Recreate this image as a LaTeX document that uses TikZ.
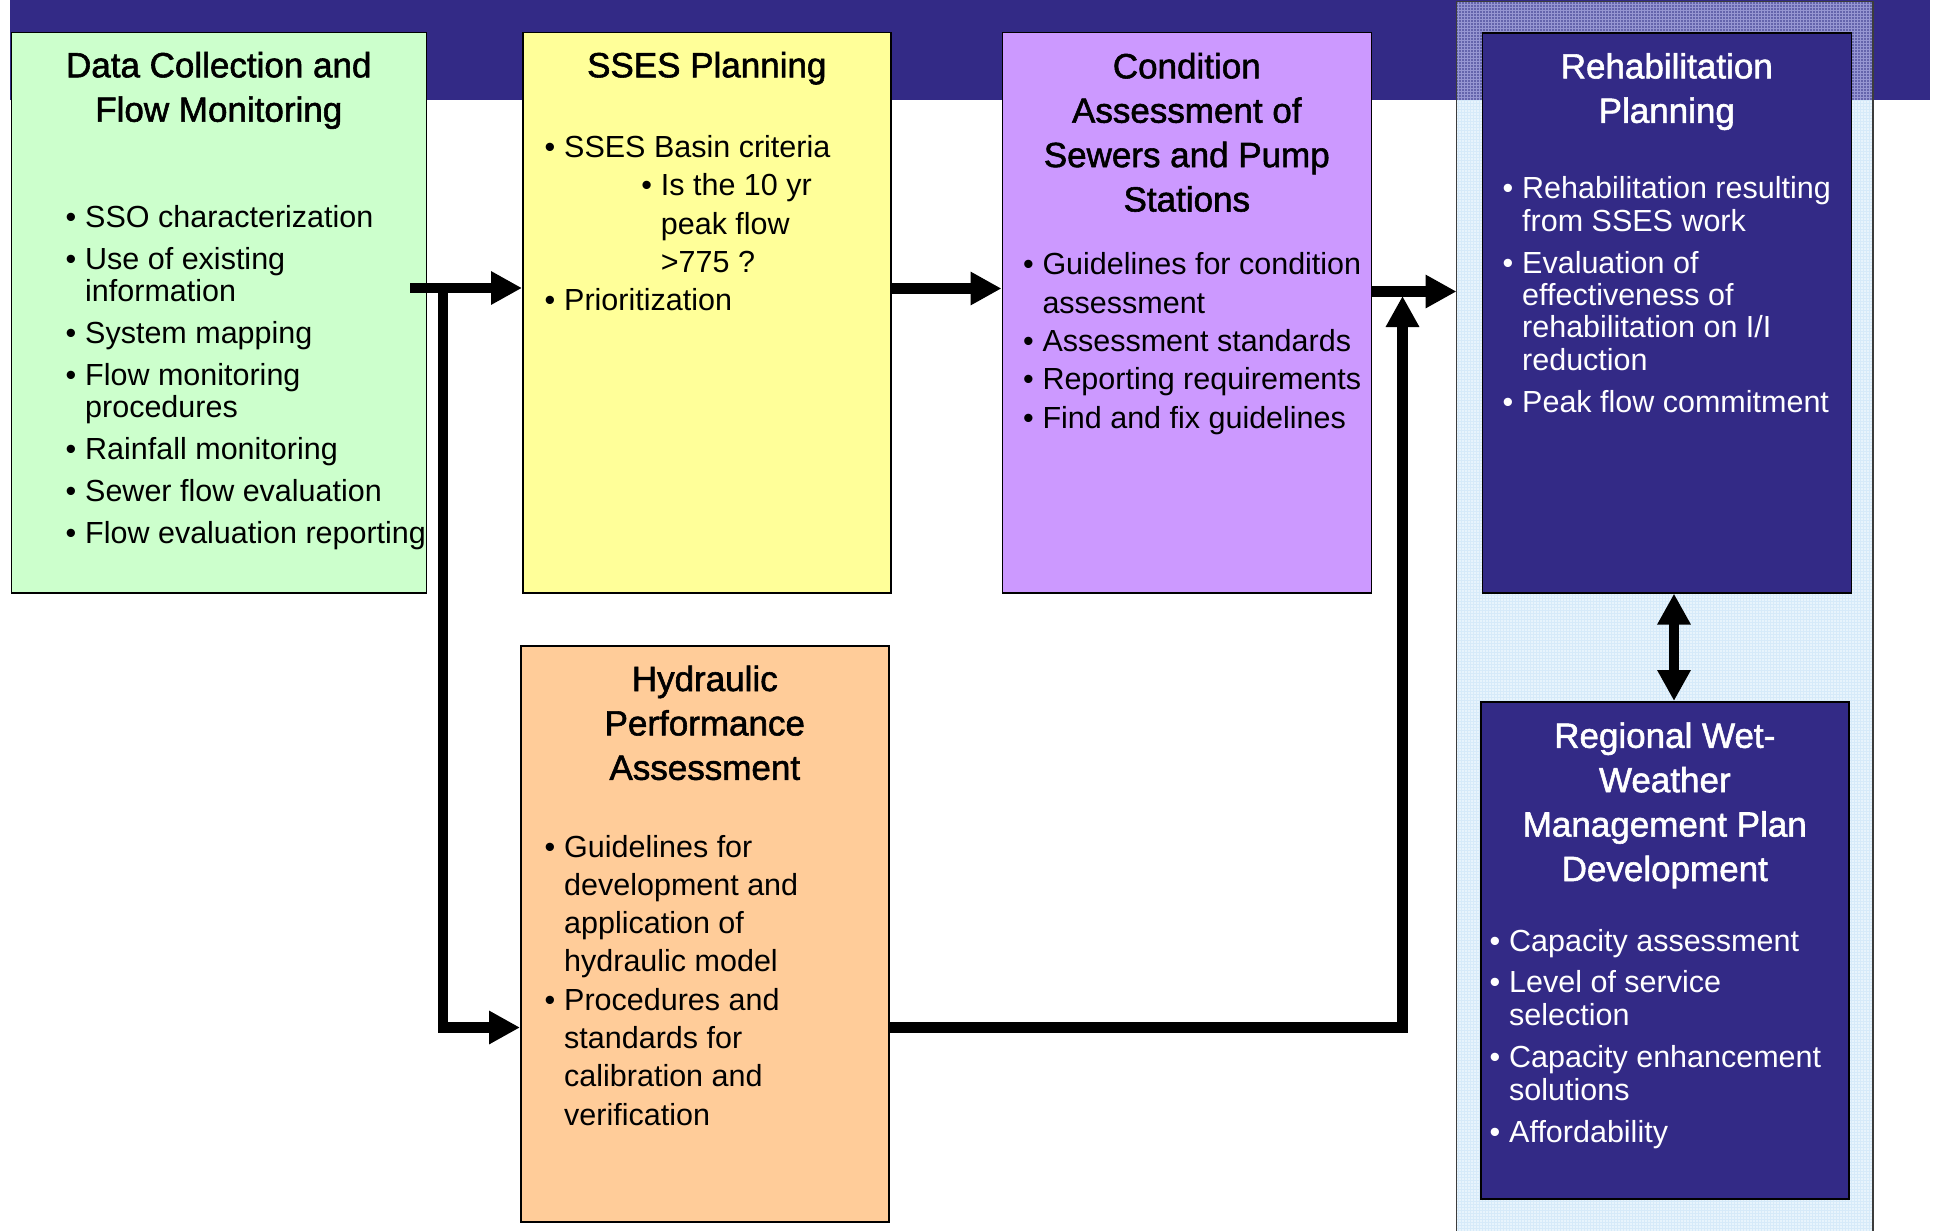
\documentclass[tikz,border=0pt]{standalone}
\usepackage{fontspec}
\setmainfont{Liberation Sans}
\newfontfamily\titlefam{Liberation Sans}[FakeBold=1.6]
\usetikzlibrary{arrows.meta,patterns}
\definecolor{navy}{RGB}{51,42,134}
\definecolor{boxgreen}{RGB}{204,255,204}
\definecolor{boxyellow}{RGB}{255,255,153}
\definecolor{boxpurple}{RGB}{204,153,255}
\definecolor{boxorange}{RGB}{255,204,153}
\definecolor{panelblue}{RGB}{232,244,252}
\definecolor{panelgrid}{RGB}{214,234,249}
\definecolor{panelnavy}{RGB}{100,100,172}
\definecolor{panelnavygrid}{RGB}{150,150,210}
\definecolor{paneledge}{RGB}{60,60,60}
\newlength{\bind}\setlength{\bind}{19.5pt}
\newcommand{\titleblock}[1]{\begin{minipage}[t]{360pt}\centering\titlefam\fontsize{35pt}{44.4pt}\selectfont #1\end{minipage}}
\newcommand{\blist}[3]{\begin{minipage}[t]{420pt}\fontsize{30.5pt}{#1}\selectfont\lineskiplimit=-100pt\relax\parskip=#2\relax\parindent=0pt\relax #3\par\end{minipage}}
\newcommand{\bi}[1]{\par\hangindent=\bind\hangafter=1\noindent\makebox[\bind][l]{\textbullet}#1}
\newcommand{\bii}[2]{\par\begingroup\leftskip=#1\hangindent=\bind\hangafter=1\noindent\makebox[\bind][l]{\textbullet}#2\par\endgroup}
\begin{document}
\begin{tikzpicture}[x=1pt,y=-1pt,
  box/.style={draw=black, line width=1.6pt, anchor=north west, inner sep=0pt},
  txt/.style={inner sep=0pt, anchor=base west},
  ttl/.style={inner sep=0pt, anchor=base},
  conn/.style={line width=10.5pt, line join=miter, -{Triangle[length=31pt,width=31.5pt]}},
  dbl/.style={line width=10.5pt, {Triangle[length=31pt,width=31.5pt]}-{Triangle[length=31pt,width=31.5pt]}}]
\useasboundingbox (0,0) rectangle (1939,1231);
\clip (0,0) rectangle (1939,1231);
% banner
\node[fill=navy, anchor=north west, minimum width=1920pt, minimum height=99.3pt, inner sep=0pt] (banner) at (10,0) {};
% right panel
\node[fill=panelblue, anchor=north west, minimum width=416pt, minimum height=1260pt, inner sep=0pt] (panel) at (1456.5,1.7) {};
\fill[pattern=grid, pattern color=panelgrid] (panel.north west) rectangle (panel.south east);
\fill[panelnavy] (panel.north west) rectangle (panel.east |- banner.south);
\fill[pattern=grid, pattern color=panelnavygrid] (panel.north west) rectangle (panel.east |- banner.south);
\draw[paneledge, line width=1.4pt] (panel.south west) -- (panel.north west) -- (panel.north east) -- (panel.south east);
% boxes
\node[box, fill=boxgreen, minimum width=415pt, minimum height=560.5pt] (green) at (10.5,31.6) {};
\node[box, fill=boxyellow, minimum width=368pt, minimum height=560.5pt] (yellow) at (522,31.6) {};
\node[box, fill=boxpurple, minimum width=369pt, minimum height=560.5pt] (purple) at (1001.5,31.6) {};
\node[box, fill=navy, minimum width=369pt, minimum height=560pt] (rehab) at (1481.5,32) {};
\node[box, fill=boxorange, minimum width=368pt, minimum height=576pt] (hydr) at (520,645) {};
\node[box, fill=navy, minimum width=368pt, minimum height=497pt] (region) at (1480,701) {};
% titles
\node[ttl] (gtitle) at (green.north |- 0,77.3) {\titleblock{Data Collection and\\Flow Monitoring}};
\node[ttl] (ytitle) at (yellow.north |- 0,77.3) {\titleblock{SSES Planning}};
\node[ttl] (ptitle) at (purple.north |- 0,78.3) {\titleblock{Condition\\Assessment of\\Sewers and Pump\\Stations}};
\node[ttl, text=white] (rtitle) at (rehab.north |- 0,78.4) {\titleblock{Rehabilitation\\Planning}};
\node[ttl] (htitle) at (hydr.north |- 0,691) {\titleblock{Hydraulic\\Performance\\Assessment}};
\node[ttl, text=white] (wtitle) at (region.north |- 0,747.8) {\titleblock{Regional Wet-\\Weather\\Management Plan\\Development}};
% bullet texts
\node[txt] (gtext) at (65.5,227.3) {\blist{32.4pt}{9.5pt}{%
  \bi{SSO characterization}%
  \bi{Use of existing\newline information}%
  \bi{System mapping}%
  \bi{Flow monitoring\newline procedures}%
  \bi{Rainfall monitoring}%
  \bi{Sewer flow evaluation}%
  \bi{Flow evaluation reporting}}};
\node[txt] (ytext) at (544.5,157.4) {\blist{38.3pt}{0pt}{%
  \bi{SSES Basin criteria}%
  \bii{96.7pt}{Is the 10 yr\newline peak flow\newline >775 ?}%
  \bi{Prioritization}}};
\node[txt] (ptext) at (1022.8,274.8) {\blist{38.3pt}{0pt}{%
  \bi{Guidelines for condition\newline assessment}%
  \bi{Assessment standards}%
  \bi{Reporting requirements}%
  \bi{Find and fix guidelines}}};
\node[txt, text=white] (rtext) at (1502.5,198.7) {\blist{32.4pt}{9.6pt}{%
  \bi{Rehabilitation resulting\newline from SSES work}%
  \bi{Evaluation of\newline effectiveness of\newline rehabilitation on I/I\newline reduction}%
  \bi{Peak flow commitment}}};
\node[txt] (htext) at (544.5,857) {\blist{38.3pt}{0pt}{%
  \bi{Guidelines for\newline development and\newline application of\newline hydraulic model}%
  \bi{Procedures and\newline standards for\newline calibration and\newline verification}}};
\node[txt, text=white] (wtext) at (1489.5,951) {\blist{33pt}{8.7pt}{%
  \bi{Capacity assessment}%
  \bi{Level of service\newline selection}%
  \bi{Capacity enhancement\newline solutions}%
  \bi{Affordability}}};
% connectors
\coordinate (gout) at (410,288);
\coordinate (split) at (443,288);
\coordinate (hin) at (hydr.west |- 0,1027.5);
\coordinate (hout) at (hydr.east |- 0,1027.5);
\coordinate (upend) at (1402.5,296);
\draw[conn] (gout) -- (gout -| yellow.west);
\draw[conn] (split) |- (hin);
\draw[conn] (yellow.east |- 0,288.5) -- (purple.west |- 0,288.5);
\draw[conn] (purple.east |- 0,291.5) -- (panel.west |- 0,291.5);
\draw[conn] (hout) -| (upend);
\draw[dbl] (rehab.south -| 1674,0) -- (region.north -| 1674,0);
\end{tikzpicture}
\end{document}
